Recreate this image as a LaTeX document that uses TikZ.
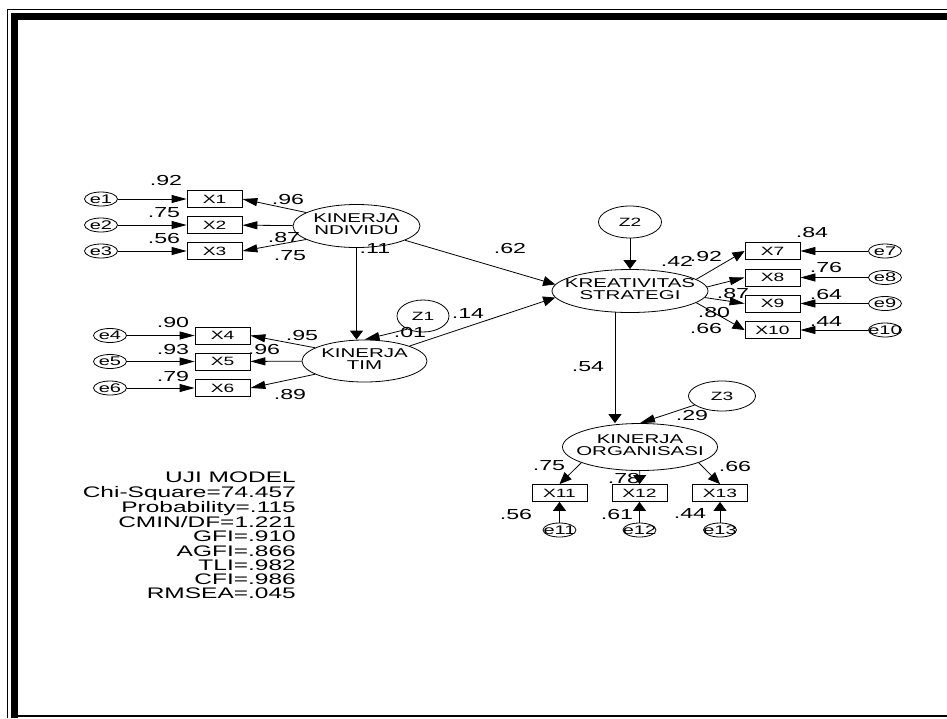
\documentclass[tikz,border=0pt]{standalone}
\usepackage{fontspec}
\setmainfont{Liberation Sans}[FakeStretch=1.6]
\usetikzlibrary{shapes.geometric,arrows.meta}
\newcommand{\latlabel}[2]{\makebox[0pt]{\begin{tabular}{@{}c@{}}#1\\#2\end{tabular}}}
\tikzset{
  latent/.style={draw,ellipse,line width=0.8pt,inner sep=0pt,font=\fontsize{12.8}{12}\selectfont},
  resid/.style={draw,ellipse,line width=0.8pt,inner sep=0pt,font=\fontsize{12}{12}\selectfont},
  obsbox/.style={draw,rectangle,line width=0.8pt,minimum width=55pt,minimum height=17pt,inner sep=0pt,font=\fontsize{12}{12}\selectfont},
  errnode/.style={draw,ellipse,line width=0.8pt,minimum width=33pt,minimum height=14pt,inner sep=0pt,font=\fontsize{12.5}{12.5}\selectfont},
  est/.style={inner sep=0pt,font=\fontsize{14.5}{14.5}\selectfont},
  fitbox/.style={inner sep=0pt,align=right,font=\fontsize{15.3}{14.25}\selectfont},
  conn/.style={line width=0.8pt,-{Triangle[length=12pt,width=10pt]}},
  connh/.style={line width=0.8pt,-{Triangle[length=15pt,width=8pt]}},
  connv/.style={line width=0.8pt,-{Triangle[length=9pt,width=13pt]}}
}
\begin{document}
\begin{tikzpicture}[x=1pt,y=-1pt]
\useasboundingbox (0,0) rectangle (947,718);
\draw[line width=1.2pt] (7.5,718) -- (7.5,9.5) -- (947,9.5);
\draw[line width=7pt] (14.5,718) -- (14.5,16.5) -- (947,16.5);
\draw[line width=1.5pt] (18,716) -- (947,716);

\node[latent,minimum width=127pt,minimum height=43pt] (KI) at (356.5,226) {\latlabel{KINERJA}{NDIVIDU}};
\node[latent,minimum width=125pt,minimum height=42pt] (KT) at (364.5,361) {\latlabel{KINERJA}{TIM}};
\node[latent,minimum width=156pt,minimum height=43pt] (KS) at (630,291) {\latlabel{KREATIVITAS}{STRATEGI}};
\node[latent,minimum width=155pt,minimum height=47pt] (KO) at (640,447) {\latlabel{KINERJA}{ORGANISASI}};
\node[resid,minimum width=52pt,minimum height=32pt] (Z1) at (423,316) {Z1};
\node[resid,minimum width=63pt,minimum height=32pt] (Z2) at (630,222) {Z2};
\node[resid,minimum width=67pt,minimum height=30pt] (Z3) at (722,396) {Z3};

\foreach \i/\y in {1/199,2/225,3/251}{
  \node[obsbox] (X\i) at (214.5,\y) {X\i};
  \node[errnode] (e\i) at (101,\y) {\makebox[0pt]{e\i}};
  \draw[connh] (e\i) -- (X\i);
}
\foreach \i/\y in {4/335.5,5/361.5,6/388}{
  \node[obsbox] (X\i) at (222.5,\y) {X\i};
  \node[errnode] (e\i) at (110,\y) {\makebox[0pt]{e\i}};
  \draw[connh] (e\i) -- (X\i);
}
\foreach \i/\y in {7/251,8/277.5,9/303.5,10/330}{
  \node[obsbox] (X\i) at (772.5,\y) {X\i};
  \node[errnode] (e\i) at (885,\y) {\makebox[0pt]{e\i}};
  \draw[connh] (e\i) -- (X\i);
}
\foreach \i/\x in {11/559.5,12/639.5,13/720}{
  \node[obsbox] (X\i) at (\x,493) {X\i};
  \node[errnode] (e\i) at (\x,530) {\makebox[0pt]{e\i}};
  \draw[connv] (e\i) -- (X\i);
}

\draw[connh] (KI.165) -- (X1.east);
\draw[connh] (KI) -- (X2);
\draw[connh] (KI.195) -- (X3.east);
\draw[connh] (KT.165) -- (X4.east);
\draw[connh] (KT) -- (X5);
\draw[connh] (KT.195) -- (X6.east);
\draw[connv] (KI.south) -- (KI.south |- KT.north);
\draw[connh] (Z1.220) -- (KT.north);
\draw[conn] (KI) -- (KS.175);
\draw[conn] (KT) -- (KS.185);
\draw[connv] (Z2) -- (KS);
\draw[conn] (KS.10) -- (X7.west);
\draw[connh] (KS.3) -- (X8.west);
\draw[connh] (KS.355) -- (X9.west);
\draw[conn] (KS.350) -- (X10.west);
\draw[connv] (KS.235) -- (KS.235 |- KO.north);
\draw[connh] (Z3) -- (KO.north);
\draw[conn] (KO.195) -- (X11.north);
\draw[connv] (KO) -- (X12);
\draw[conn] (KO.345) -- (X13.north);

\foreach \n/\x/\y/\t in {r1/166/181/.92, r2/164/213/.75, r3/164/239/.56,
    l1/288/200/.96, l2/284/238/.87, l3/290/256/.75, b1/375/249/.11,
    r4/173/323/.90, r5/173/350/.93, r6/173/377/.79,
    l4/302/336/.95, l5/264/350/.96, l6/290/395/.89,
    b2/410/333/.01, b3/468/314/.14, b4/510/249/.62, b5/588/367/.54,
    b6/677/261/.42, l7/706/257/.92,
    r7/812/233/.84, r8/826/268/.76, r9/826/295/.64, r10/826/322/.44,
    l9/733/294/.87, l10/714/313/.80, l8/706/329/.66, b7/692/416/.29,
    l11/549/466/.75, l12/624/478/.78, l13/735/466/.66,
    r11/516/514/.56, r12/617/514/.61, r13/690/514/.44}
  \node[est] (\n) at (\x,\y) {\t};

\node[fitbox,anchor=north east] (fit) at (296,472) {UJI MODEL\\Chi-Square=74.457\\Probability=.115\\CMIN/DF=1.221\\GFI=.910\\AGFI=.866\\TLI=.982\\CFI=.986\\RMSEA=.045};
\end{tikzpicture}
\end{document}
